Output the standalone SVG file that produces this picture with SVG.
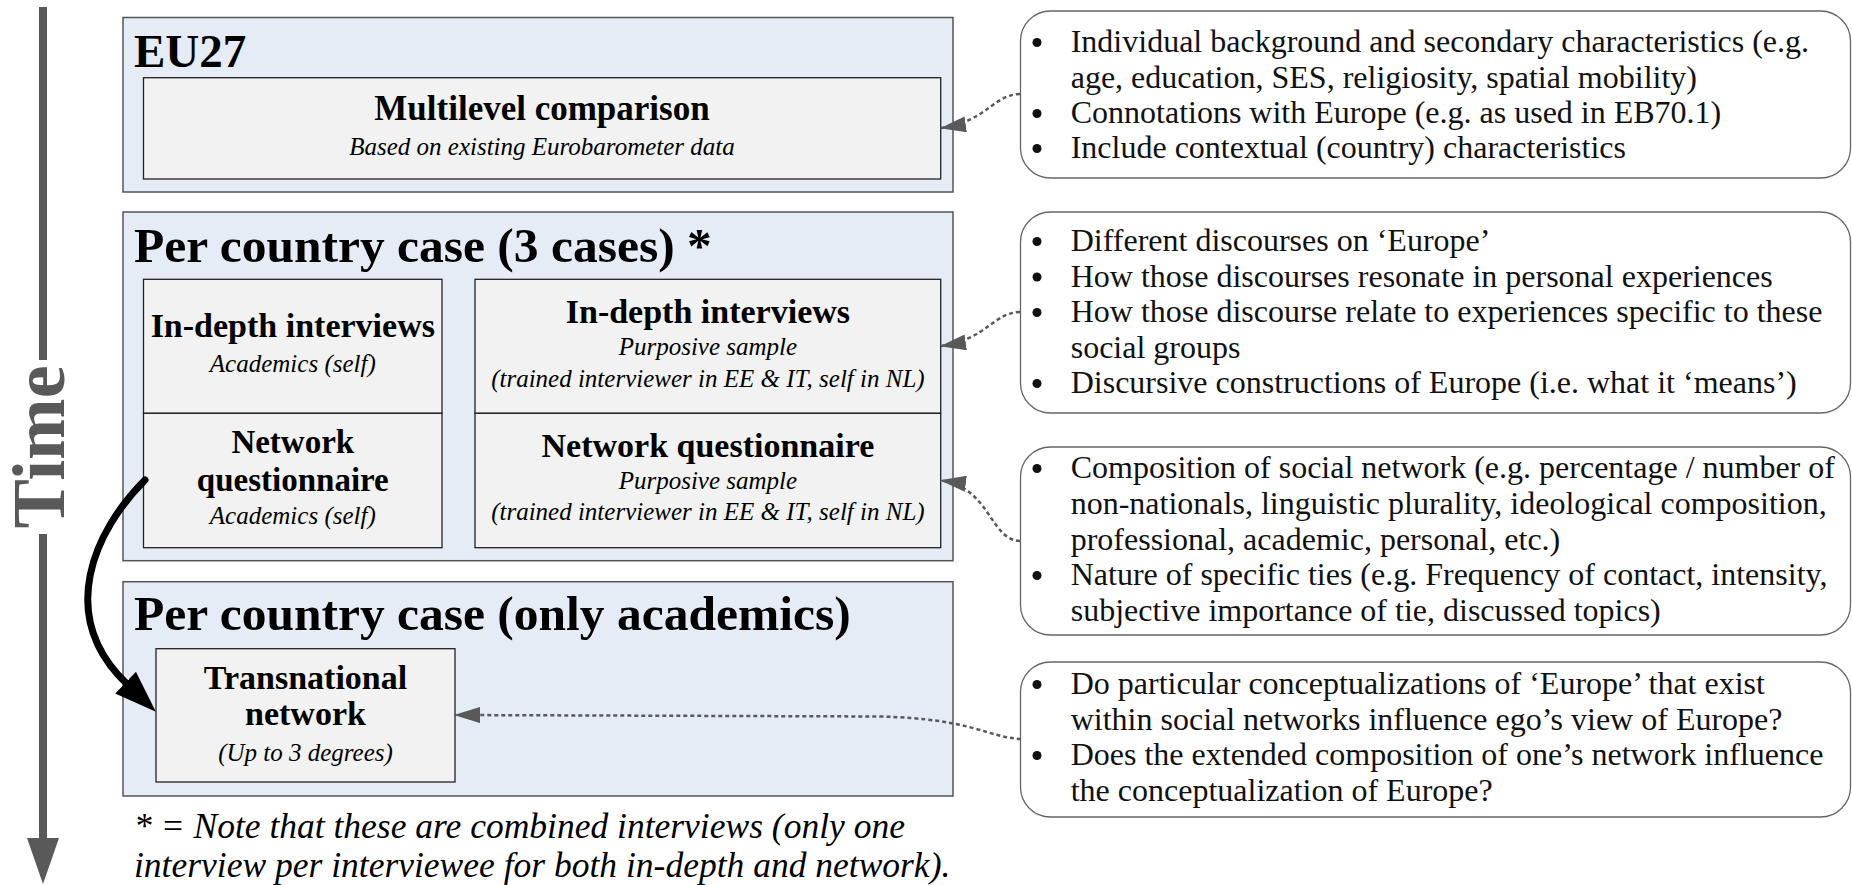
<svg xmlns="http://www.w3.org/2000/svg" width="1852" height="885" viewBox="0 0 1852 885">
<defs>
<style>
.outer{fill:#E6ECF6;stroke:#555;stroke-width:1.5}
.inner{fill:#F2F2F2;stroke:#222;stroke-width:1.3}
.note{fill:#fff;stroke:#666;stroke-width:1.3}
text{font-family:"Liberation Serif","Times New Roman",serif;fill:#000}
.big{font-weight:bold;font-size:49.5px}
.head{font-weight:bold;font-size:34px;text-anchor:middle}
.sub{font-style:italic;font-size:25px;text-anchor:middle}
.list{font-size:32px;fill:#111}
.foot{font-style:italic;font-size:35.5px}
.bul{fill:#111}
.conn{fill:none;stroke:#595959;stroke-width:2.5;stroke-dasharray:4 3}
</style>
<marker id="ah" viewBox="0 0 26 16" refX="25" refY="8" markerWidth="26" markerHeight="16" markerUnits="userSpaceOnUse" orient="auto">
<path d="M0,0 L26,8 L0,16 z" fill="#595959"/>
</marker>
<marker id="bh" viewBox="0 0 42 30" refX="2" refY="15" markerWidth="42" markerHeight="30" markerUnits="userSpaceOnUse" orient="auto">
<path d="M0,0 L42,15 L0,30 z" fill="#000"/>
</marker>
</defs>
<rect width="1852" height="885" fill="#fff"/>

<g id="time">
<line x1="43" y1="7" x2="43" y2="360" stroke="#595959" stroke-width="8"/>
<line x1="43" y1="534" x2="43" y2="842" stroke="#595959" stroke-width="8"/>
<polygon points="27,838 59,838 43,884" fill="#595959"/>
<text transform="translate(64,447) rotate(-90)" text-anchor="middle" style="font-weight:bold;font-size:74px;fill:#595959">Time</text>
</g>

<g id="eu27">
<rect class="outer" x="123" y="17.5" width="830" height="174.5"/>
<text x="134" y="67" style="font-weight:bold;font-size:47px">EU27</text>
</g>
<g id="multilevel">
<rect class="inner" x="143.5" y="77.7" width="797.2" height="101.3"/>
<text class="head" x="542" y="120" style="font-size:35px">Multilevel comparison</text>
<text class="sub" x="542" y="155">Based on existing Eurobarometer data</text>
</g>

<g id="country3">
<rect class="outer" x="123" y="212" width="830" height="348.7"/>
<text class="big" x="134" y="262">Per country case (3 cases) *</text>
</g>
<g id="indepth-academics">
<rect class="inner" x="143.5" y="279.3" width="298.5" height="134"/>
<text class="head" x="292.8" y="337">In-depth interviews</text>
<text class="sub" x="292.8" y="372">Academics (self)</text>
</g>
<g id="network-academics">
<rect class="inner" x="143.5" y="413.3" width="298.5" height="134.4"/>
<text class="head" x="292.8" y="453" style="font-size:33px">Network</text>
<text class="head" x="292.8" y="491" style="font-size:33px">questionnaire</text>
<text class="sub" x="292.8" y="524">Academics (self)</text>
</g>
<g id="indepth-purposive">
<rect class="inner" x="475" y="279.3" width="465.7" height="134"/>
<text class="head" x="707.9" y="323">In-depth interviews</text>
<text class="sub" x="707.9" y="355">Purposive sample</text>
<text class="sub" x="707.9" y="387">(trained interviewer in EE &amp; IT, self in NL)</text>
</g>
<g id="network-purposive">
<rect class="inner" x="475" y="413.3" width="465.7" height="134.4"/>
<text class="head" x="707.9" y="457">Network questionnaire</text>
<text class="sub" x="707.9" y="489">Purposive sample</text>
<text class="sub" x="707.9" y="520">(trained interviewer in EE &amp; IT, self in NL)</text>
</g>

<g id="country-academics">
<rect class="outer" x="123" y="581.7" width="830" height="214.3"/>
<text class="big" x="134" y="630">Per country case (only academics)</text>
</g>
<g id="transnational">
<rect class="inner" x="156" y="648.7" width="299" height="133.3"/>
<text class="head" x="305.5" y="689">Transnational</text>
<text class="head" x="305.5" y="725">network</text>
<text class="sub" x="305.5" y="761">(Up to 3 degrees)</text>
</g>

<g id="footnote">
<text class="foot" x="134" y="838">* = Note that these are combined interviews (only one</text>
<text class="foot" x="134" y="877">interview per interviewee for both in-depth and network).</text>
</g>

<g id="note1">
<rect class="note" x="1020.5" y="11" width="830" height="167" rx="30"/>
<circle class="bul" cx="1037" cy="42.5" r="4.5"/>
<circle class="bul" cx="1037" cy="113.5" r="4.5"/>
<circle class="bul" cx="1037" cy="148.5" r="4.5"/>
<text class="list" x="1070.7" y="52">Individual background and secondary characteristics (e.g.</text>
<text class="list" x="1070.7" y="87.5">age, education, SES, religiosity, spatial mobility)</text>
<text class="list" x="1070.7" y="123">Connotations with Europe (e.g. as used in EB70.1)</text>
<text class="list" x="1070.7" y="158">Include contextual (country) characteristics</text>
</g>
<g id="note2">
<rect class="note" x="1020.5" y="212" width="830" height="201" rx="30"/>
<circle class="bul" cx="1037" cy="241.5" r="4.5"/>
<circle class="bul" cx="1037" cy="277" r="4.5"/>
<circle class="bul" cx="1037" cy="312.5" r="4.5"/>
<circle class="bul" cx="1037" cy="383.5" r="4.5"/>
<text class="list" x="1070.7" y="251">Different discourses on ‘Europe’</text>
<text class="list" x="1070.7" y="286.5">How those discourses resonate in personal experiences</text>
<text class="list" x="1070.7" y="322">How those discourse relate to experiences specific to these</text>
<text class="list" x="1070.7" y="357.5">social groups</text>
<text class="list" x="1070.7" y="393">Discursive constructions of Europe (i.e. what it ‘means’)</text>
</g>
<g id="note3">
<rect class="note" x="1020.5" y="447" width="830" height="188" rx="30"/>
<circle class="bul" cx="1037" cy="468.5" r="4.5"/>
<circle class="bul" cx="1037" cy="575.5" r="4.5"/>
<text class="list" x="1070.7" y="478">Composition of social network (e.g. percentage / number of</text>
<text class="list" x="1070.7" y="514">non-nationals, linguistic plurality, ideological composition,</text>
<text class="list" x="1070.7" y="549.5">professional, academic, personal, etc.)</text>
<text class="list" x="1070.7" y="585">Nature of specific ties (e.g. Frequency of contact, intensity,</text>
<text class="list" x="1070.7" y="620.5">subjective importance of tie, discussed topics)</text>
</g>
<g id="note4">
<rect class="note" x="1020.5" y="662" width="830" height="155" rx="30"/>
<circle class="bul" cx="1037" cy="684.5" r="4.5"/>
<circle class="bul" cx="1037" cy="755.5" r="4.5"/>
<text class="list" x="1070.7" y="694">Do particular conceptualizations of ‘Europe’ that exist</text>
<text class="list" x="1070.7" y="729.5">within social networks influence ego’s view of Europe?</text>
<text class="list" x="1070.7" y="765">Does the extended composition of one’s network influence</text>
<text class="list" x="1070.7" y="800.5">the conceptualization of Europe?</text>
</g>

<g id="connectors">
<path class="conn" d="M1020,94 C992,95 988,121 941,128" marker-end="url(#ah)"/>
<path class="conn" d="M1020,312 C992,313 988,339 941,346" marker-end="url(#ah)"/>
<path class="conn" d="M1020,541 C990,540 990,487 941,480.5" marker-end="url(#ah)"/>
<path class="conn" d="M1021,739 C985,737 975,719 880,716.5 L455,715" marker-end="url(#ah)"/>
<path d="M145,480 C95,530 55,615 127,684" fill="none" stroke="#000" stroke-width="7" stroke-linecap="round" marker-end="url(#bh)"/>
</g>
</svg>
